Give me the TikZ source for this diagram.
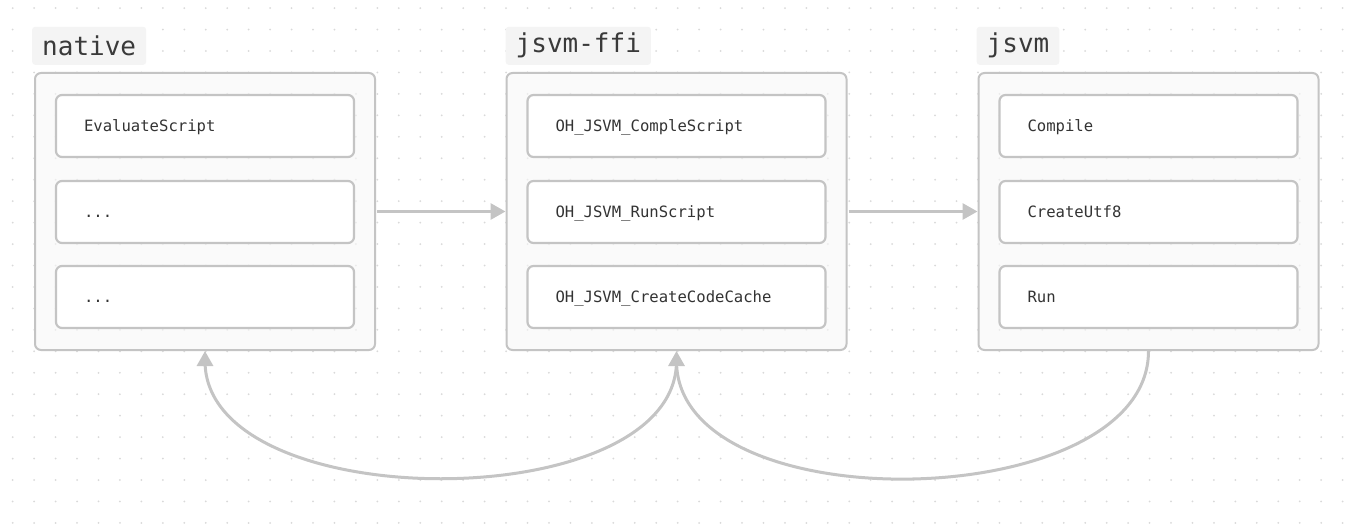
\documentclass[tikz,border=0pt]{standalone}
\usepackage{fontspec}
\setmonofont{DejaVu Sans Mono}
\usetikzlibrary{arrows.meta,positioning,calc}
\definecolor{dotc}{HTML}{D9D9D9}
\definecolor{linec}{HTML}{C4C4C4}
\definecolor{boxline}{HTML}{C4C4C4}
\definecolor{outerfill}{HTML}{F7F7F7}
\definecolor{labelfill}{HTML}{F4F4F4}
\definecolor{txt}{HTML}{333333}
\definecolor{ltxt}{HTML}{3A3A3A}
\tikzset{
  outerbox/.style={draw=boxline, line width=2pt, rounded corners=6pt, fill=outerfill, fill opacity=0.6, draw opacity=1, minimum width=340pt, minimum height=277pt, inner sep=0pt},
  innerbox/.style={draw=boxline, line width=2.2pt, rounded corners=6pt, fill=white, minimum width=298pt, minimum height=62pt, text width=242pt, text height=12pt, text depth=1pt, align=left, inner sep=0pt, font=\ttfamily\fontsize{15.6}{18}\selectfont, text=txt},
  grouplabel/.style={fill=labelfill, rounded corners=3pt, inner xsep=10pt, inner ysep=0pt, minimum height=38pt, font=\ttfamily\fontsize{26}{30}\selectfont, text=ltxt, anchor=south west},
  arr/.style={draw=linec, line width=3pt, -{Triangle[length=15pt,width=16pt]}},
  curve/.style={draw=linec, line width=3pt}
}
\begin{document}
\begin{tikzpicture}[x=1pt,y=-1pt]
\useasboundingbox (0,0) rectangle (1357,524);
\fill[white] (0,0) rectangle (1357,524);
% dot grid
\foreach \i in {0,...,63} {
  \foreach \j in {0,...,24} {
    \fill[dotc] ({12.7+21.45*\i},{8.1+21.45*\j}) circle (1pt);
  }
}
% outer boxes
\node[outerbox] (native) at (205,211.5) {};
\node[outerbox] (ffi) at (676.5,211.5) {};
\node[outerbox] (jsvm) at (1148.5,211.5) {};
% labels
\node[grouplabel] (lnative) at ([xshift=-2pt,yshift=7pt]native.north west) {native};
\node[grouplabel] (lffi) at ([xshift=0pt,yshift=7pt]ffi.north west) {jsvm-ffi};
\node[grouplabel] (ljsvm) at ([xshift=-1pt,yshift=7pt]jsvm.north west) {jsvm};
% inner boxes
\node[innerbox] (n1) at (205,126) {EvaluateScript};
\node[innerbox] (n2) at (205,212) {...};
\node[innerbox] (n3) at (205,297) {...};
\node[innerbox] (f1) at (676.5,126) {OH\_JSVM\_CompleScript};
\node[innerbox] (f2) at (676.5,212) {OH\_JSVM\_RunScript};
\node[innerbox] (f3) at (676.5,297) {OH\_JSVM\_CreateCodeCache};
\node[innerbox] (j1) at (1148.5,126) {Compile};
\node[innerbox] (j2) at (1148.5,212) {CreateUtf8};
\node[innerbox] (j3) at (1148.5,297) {Run};
% straight arrows
\draw[arr] ([xshift=1pt]native.east) -- (ffi.west);
\draw[arr] ([xshift=1pt]ffi.east) -- (jsvm.west);
% curved arrows
\draw[curve] (jsvm.south) .. controls +(0,164) and +(0,164) .. ([yshift=-10pt]ffi.south);
\draw[arr] ([yshift=-10pt]ffi.south) -- (ffi.south);
\draw[curve] ([yshift=-10pt]ffi.south) .. controls +(0,157) and +(0,157) .. ([yshift=-10pt]native.south);
\draw[arr] ([yshift=-10pt]native.south) -- (native.south);
\end{tikzpicture}
\end{document}
